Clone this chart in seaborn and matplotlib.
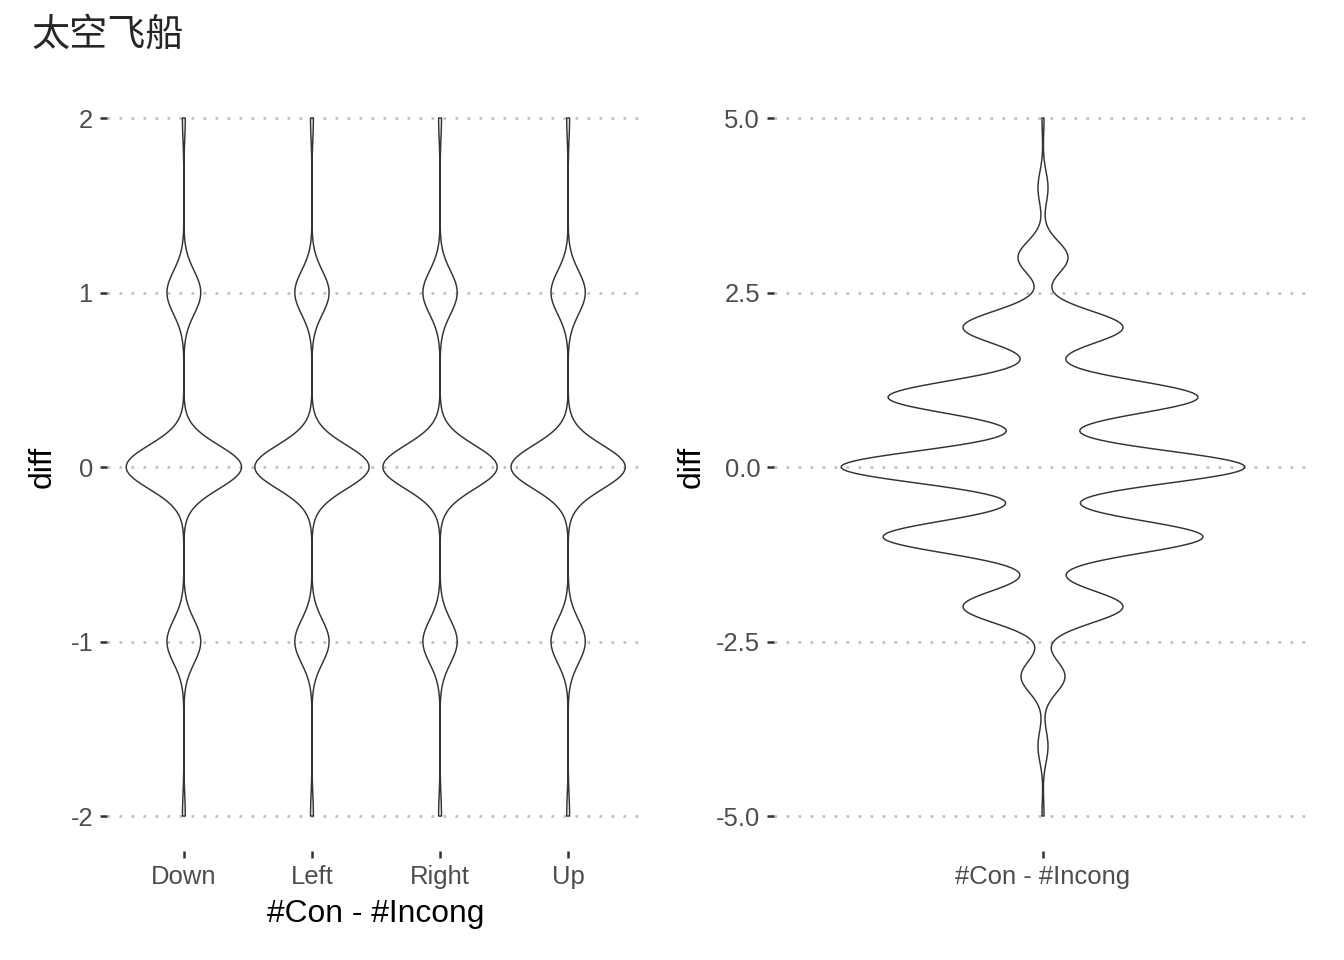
import numpy as np
import pandas as pd
import matplotlib
matplotlib.use("Agg")
import matplotlib.pyplot as plt
import seaborn as sns

# --- Data (counts per integer diff) ---
directions = ["Down", "Left", "Right", "Up"]
left_values = [-2, -1, 0, 1, 2]
counts_down = [1, 12, 41, 12, 1]
counts_left = [1, 12, 40, 12, 1]
counts_right = [1, 12, 40, 12, 1]
counts_up = [1, 12, 40, 12, 1]

right_category = "#Con - #Incong"
right_values = [-5, -4, -3, -2, -1, 0, 1, 2, 3, 4, 5]
right_counts = [1, 5, 22, 80, 160, 202, 155, 80, 25, 5, 1]

left_ticks = [-2, -1, 0, 1, 2]
left_ticklabels = ["-2", "-1", "0", "1", "2"]
right_ticks = [-5, -2.5, 0, 2.5, 5]
right_ticklabels = ["-5.0", "-2.5", "0.0", "2.5", "5.0"]

title = "太空飞船"

# --- Build long tables ---
left_counts = [counts_down, counts_left, counts_right, counts_up]
df_left = pd.concat([
    pd.DataFrame({"dir": d, "diff": np.repeat(left_values, c)})
    for d, c in zip(directions, left_counts)
], ignore_index=True)
df_right = pd.DataFrame({"dir": right_category,
                         "diff": np.repeat(right_values, right_counts)})


def fixed_bw(sigma):
    # kde bandwidth given directly in data units
    return lambda k: sigma / np.std(k.dataset, ddof=1)


# --- Style ---
sns.set_style("white")
plt.rcParams["font.family"] = ["Liberation Sans", "Noto Sans CJK SC", "DejaVu Sans"]
plt.rcParams["axes.unicode_minus"] = False

fig = plt.figure(figsize=(7, 5), dpi=192)
ax1 = fig.add_axes([107 / 1344, 0.1136, 538 / 1344, 0.7998])
ax2 = fig.add_axes([774 / 1344, 0.1136, 538 / 1344, 0.7998])

line_kws = dict(fill=False, inner=None, cut=0, width=0.9, gridsize=400,
                linewidth=0.55, color="#333333", density_norm="area")

sns.violinplot(data=df_left, x="dir", y="diff", order=directions,
               bw_method=fixed_bw(0.125), ax=ax1, **line_kws)
sns.violinplot(data=df_right, x="dir", y="diff",
               bw_method=fixed_bw(0.235), ax=ax2, **line_kws)

ax1.set_xlim(-0.6, 3.6)
ax1.set_ylim(-2.2, 2.2)
ax1.set_yticks(left_ticks)
ax1.set_yticklabels(left_ticklabels)
ax2.set_xlim(-0.6, 0.6)
ax2.set_ylim(-5.5, 5.5)
ax2.set_yticks(right_ticks)
ax2.set_yticklabels(right_ticklabels)

for ax in (ax1, ax2):
    for s in ax.spines.values():
        s.set_visible(False)
    ax.set_axisbelow(True)
    ax.yaxis.grid(True, linestyle=(0, (1, 3.5)), color="#BEBEBE", linewidth=1.0)
    ax.xaxis.grid(False)
    ax.tick_params(axis="both", length=2.8, width=0.95, color="#333333",
                   labelcolor="#4D4D4D", labelsize=9.6, pad=2.4,
                   left=True, bottom=True)
    ax.set_ylabel("diff", fontsize=12, color="black")

ax1.yaxis.set_label_coords(-0.092, 0.5)
ax2.yaxis.set_label_coords(-0.126, 0.5)
ax1.set_xlabel("#Con - #Incong", fontsize=11.9, color="black")
ax1.xaxis.set_label_coords(0.5, -0.062)
ax2.set_xlabel("")

fig.text(32 / 1344, 1 - 16 / 960, title, fontsize=14.3, va="top", ha="left",
         family=["Noto Sans CJK SC", "DejaVu Sans"])

fig.savefig("out.png", dpi=192)
